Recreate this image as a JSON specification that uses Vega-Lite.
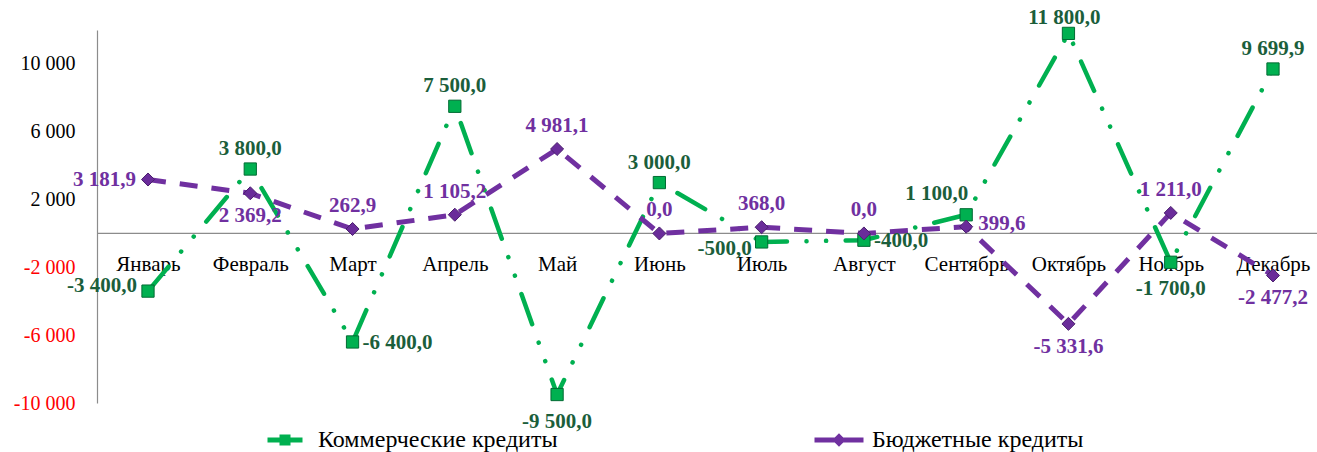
{
  "$schema": "https://vega.github.io/schema/vega-lite/v6.json",
  "width": 1220,
  "height": 373,
  "autosize": {"type": "none"},
  "padding": {"left": 97, "top": 30, "right": 0, "bottom": 49},
  "background": "#ffffff",
  "config": {
    "view": {"stroke": null},
    "locale": {"number": {"decimal": ",", "thousands": " ", "grouping": [3], "currency": ["", ""], "minus": "-"}},
    "axis": {"grid": false, "labelFont": "Liberation Serif", "titleFont": "Liberation Serif"},
    "text": {"font": "Liberation Serif", "fontSize": 21, "fontWeight": "bold", "baseline": "middle"}
  },
  "data": {
    "values": [
      {"month": "Январь", "s": "Коммерческие кредиты", "value": -3400},
      {"month": "Февраль", "s": "Коммерческие кредиты", "value": 3800},
      {"month": "Март", "s": "Коммерческие кредиты", "value": -6400},
      {"month": "Апрель", "s": "Коммерческие кредиты", "value": 7500},
      {"month": "Май", "s": "Коммерческие кредиты", "value": -9500},
      {"month": "Июнь", "s": "Коммерческие кредиты", "value": 3000},
      {"month": "Июль", "s": "Коммерческие кредиты", "value": -500},
      {"month": "Август", "s": "Коммерческие кредиты", "value": -400},
      {"month": "Сентябрь", "s": "Коммерческие кредиты", "value": 1100},
      {"month": "Октябрь", "s": "Коммерческие кредиты", "value": 11800},
      {"month": "Ноябрь", "s": "Коммерческие кредиты", "value": -1700},
      {"month": "Декабрь", "s": "Коммерческие кредиты", "value": 9699.9},
      {"month": "Январь", "s": "Бюджетные кредиты", "value": 3181.9},
      {"month": "Февраль", "s": "Бюджетные кредиты", "value": 2369.2},
      {"month": "Март", "s": "Бюджетные кредиты", "value": 262.9},
      {"month": "Апрель", "s": "Бюджетные кредиты", "value": 1105.2},
      {"month": "Май", "s": "Бюджетные кредиты", "value": 4981.1},
      {"month": "Июнь", "s": "Бюджетные кредиты", "value": 0},
      {"month": "Июль", "s": "Бюджетные кредиты", "value": 368},
      {"month": "Август", "s": "Бюджетные кредиты", "value": 0},
      {"month": "Сентябрь", "s": "Бюджетные кредиты", "value": 399.6},
      {"month": "Октябрь", "s": "Бюджетные кредиты", "value": -5331.6},
      {"month": "Ноябрь", "s": "Бюджетные кредиты", "value": 1211},
      {"month": "Декабрь", "s": "Бюджетные кредиты", "value": -2477.2}
    ]
  },
  "layer": [
    {
      "data": {"values": [{"value": 0}]},
      "mark": {"type": "rule", "color": "#8c8c8c", "strokeWidth": 1.2},
      "encoding": {
        "y": {"field": "value", "type": "quantitative",
          "scale": {"domain": [-10000, 12000], "nice": false, "zero": false},
          "axis": {"title": null, "values": [-10000, -6000, -2000, 2000, 6000, 10000], "format": ",d",
            "ticks": false, "labelPadding": 22, "labelFontSize": 20, "domainColor": "#8c8c8c", "domainWidth": 1.2,
            "labelColor": {"condition": {"test": "datum.value < 0", "value": "#FF0000"}, "value": "#000000"}}}
      }
    },
    {
      "transform": [{"filter": "datum.s === 'Коммерческие кредиты'"}],
      "mark": {"type": "line", "color": "#00B050", "strokeWidth": 4.5, "strokeCap": "round", "strokeDash": [32, 19.5, 0.1, 19.5, 0.1, 19.5]},
      "encoding": {
        "x": {"field": "month", "type": "nominal", "sort": null,
          "scale": {"type": "point", "domain": ["Январь", "Февраль", "Март", "Апрель", "Май", "Июнь", "Июль", "Август", "Сентябрь", "Октябрь", "Ноябрь", "Декабрь"], "range": [51, 1176], "padding": 0},
          "axis": {"title": null, "domain": false, "ticks": false, "labelAngle": 0, "labelOverlap": false, "offset": -170, "labelPadding": 20, "labelFontSize": 21, "labelColor": "#000000"}},
        "y": {"field": "value", "type": "quantitative"}
      }
    },
    {
      "transform": [{"filter": "datum.s === 'Бюджетные кредиты'"}],
      "mark": {"type": "line", "color": "#7030A0", "strokeWidth": 5, "strokeDash": [18, 14]},
      "encoding": {
        "x": {"field": "month", "type": "nominal", "sort": null},
        "y": {"field": "value", "type": "quantitative"}
      }
    },
    {
      "transform": [{"filter": "datum.s === 'Коммерческие кредиты'"}],
      "mark": {"type": "point", "shape": "square", "filled": true, "opacity": 1, "size": 150, "fill": "#00B050", "stroke": "#006B33", "strokeWidth": 1},
      "encoding": {
        "x": {"field": "month", "type": "nominal", "sort": null},
        "y": {"field": "value", "type": "quantitative"}
      }
    },
    {
      "transform": [{"filter": "datum.s === 'Бюджетные кредиты'"}],
      "mark": {"type": "point", "shape": "diamond", "filled": true, "opacity": 1, "size": 170, "fill": "#6A2C9A", "stroke": "#4B1F6E", "strokeWidth": 1},
      "encoding": {
        "x": {"field": "month", "type": "nominal", "sort": null},
        "y": {"field": "value", "type": "quantitative"}
      }
    },
    {
      "mark": {"type": "point", "filled": true, "opacity": 1, "size": 0},
      "encoding": {
        "x": {"field": "month", "type": "nominal", "sort": null},
        "y": {"field": "value", "type": "quantitative"},
        "shape": {"field": "s", "type": "nominal",
          "scale": {"domain": ["Коммерческие кредиты", "Бюджетные кредиты"], "range": ["M-0.7,-0.1H0.7V0.1H-0.7Z M-0.22,-0.22H0.22V0.22H-0.22Z", "M-0.98,-0.1H0.98V0.1H-0.98Z M0,-0.27L0.27,0L0,0.27L-0.27,0Z"]}},
        "color": {"field": "s", "type": "nominal",
          "scale": {"domain": ["Коммерческие кредиты", "Бюджетные кредиты"], "range": ["#00B050", "#7030A0"]},
          "legend": {"orient": "none", "legendX": 163, "legendY": 385, "direction": "horizontal", "title": null,
            "labelFont": "Liberation Serif", "labelFontSize": 24, "labelColor": "#000000", "labelOffset": 8, "labelLimit": 0,
            "symbolSize": 2500, "columnPadding": 256, "symbolStrokeWidth": 0, "symbolOpacity": 1}}
      }
    },
    {
      "transform": [{"filter": "datum.s === 'Коммерческие кредиты' && indexof(['Февраль','Апрель','Июнь','Декабрь'], datum.month) >= 0"}],
      "mark": {"type": "text", "dy": -20, "align": "center", "color": "#1B5E3B"},
      "encoding": {"x": {"field": "month", "type": "nominal", "sort": null}, "y": {"field": "value", "type": "quantitative"}, "text": {"field": "value", "type": "quantitative", "format": ",.1f"}}
    },
    {
      "transform": [{"filter": "datum.s === 'Коммерческие кредиты' && datum.month === 'Октябрь'"}],
      "mark": {"type": "text", "dy": -15, "dx": -4, "align": "center", "color": "#1B5E3B"},
      "encoding": {"x": {"field": "month", "type": "nominal", "sort": null}, "y": {"field": "value", "type": "quantitative"}, "text": {"field": "value", "type": "quantitative", "format": ",.1f"}}
    },
    {
      "transform": [{"filter": "datum.s === 'Коммерческие кредиты' && indexof(['Май','Ноябрь'], datum.month) >= 0"}],
      "mark": {"type": "text", "dy": 27, "align": "center", "color": "#1B5E3B"},
      "encoding": {"x": {"field": "month", "type": "nominal", "sort": null}, "y": {"field": "value", "type": "quantitative"}, "text": {"field": "value", "type": "quantitative", "format": ",.1f"}}
    },
    {
      "transform": [{"filter": "datum.s === 'Коммерческие кредиты' && datum.month === 'Январь'"}],
      "mark": {"type": "text", "dx": -11, "dy": -5, "align": "right", "color": "#1B5E3B"},
      "encoding": {"x": {"field": "month", "type": "nominal", "sort": null}, "y": {"field": "value", "type": "quantitative"}, "text": {"field": "value", "type": "quantitative", "format": ",.1f"}}
    },
    {
      "transform": [{"filter": "datum.s === 'Коммерческие кредиты' && datum.month === 'Июль'"}],
      "mark": {"type": "text", "dx": -10, "dy": 7, "align": "right", "color": "#1B5E3B"},
      "encoding": {"x": {"field": "month", "type": "nominal", "sort": null}, "y": {"field": "value", "type": "quantitative"}, "text": {"field": "value", "type": "quantitative", "format": ",.1f"}}
    },
    {
      "transform": [{"filter": "datum.s === 'Коммерческие кредиты' && indexof(['Март','Август'], datum.month) >= 0"}],
      "mark": {"type": "text", "dx": 10, "dy": 1, "align": "left", "color": "#1B5E3B"},
      "encoding": {"x": {"field": "month", "type": "nominal", "sort": null}, "y": {"field": "value", "type": "quantitative"}, "text": {"field": "value", "type": "quantitative", "format": ",.1f"}}
    },
    {
      "transform": [{"filter": "datum.s === 'Коммерческие кредиты' && datum.month === 'Сентябрь'"}],
      "mark": {"type": "text", "dx": 2, "dy": -21, "align": "right", "color": "#1B5E3B"},
      "encoding": {"x": {"field": "month", "type": "nominal", "sort": null}, "y": {"field": "value", "type": "quantitative"}, "text": {"field": "value", "type": "quantitative", "format": ",.1f"}}
    },
    {
      "transform": [{"filter": "datum.s === 'Бюджетные кредиты' && indexof(['Март','Апрель','Май','Июнь','Июль','Август','Ноябрь'], datum.month) >= 0"}],
      "mark": {"type": "text", "dy": -23, "align": "center", "color": "#7030A0"},
      "encoding": {"x": {"field": "month", "type": "nominal", "sort": null}, "y": {"field": "value", "type": "quantitative"}, "text": {"field": "value", "type": "quantitative", "format": ",.1f"}}
    },
    {
      "transform": [{"filter": "datum.s === 'Бюджетные кредиты' && indexof(['Февраль','Октябрь','Декабрь'], datum.month) >= 0"}],
      "mark": {"type": "text", "dy": 23, "align": "center", "color": "#7030A0"},
      "encoding": {"x": {"field": "month", "type": "nominal", "sort": null}, "y": {"field": "value", "type": "quantitative"}, "text": {"field": "value", "type": "quantitative", "format": ",.1f"}}
    },
    {
      "transform": [{"filter": "datum.s === 'Бюджетные кредиты' && datum.month === 'Январь'"}],
      "mark": {"type": "text", "dx": -12, "dy": 0, "align": "right", "color": "#7030A0"},
      "encoding": {"x": {"field": "month", "type": "nominal", "sort": null}, "y": {"field": "value", "type": "quantitative"}, "text": {"field": "value", "type": "quantitative", "format": ",.1f"}}
    },
    {
      "transform": [{"filter": "datum.s === 'Бюджетные кредиты' && datum.month === 'Сентябрь'"}],
      "mark": {"type": "text", "dx": 12, "dy": -3, "align": "left", "color": "#7030A0"},
      "encoding": {"x": {"field": "month", "type": "nominal", "sort": null}, "y": {"field": "value", "type": "quantitative"}, "text": {"field": "value", "type": "quantitative", "format": ",.1f"}}
    }
  ]
}
